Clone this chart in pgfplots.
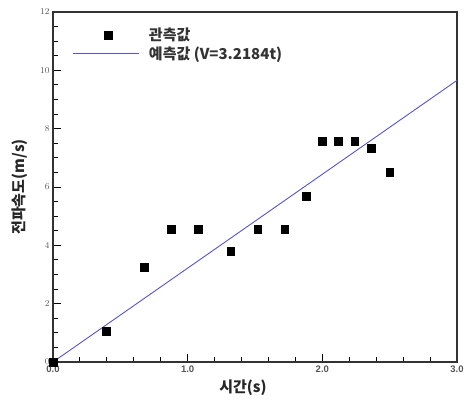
\documentclass[border=0pt]{standalone}
\usepackage{pgfplots}
\pgfplotsset{compat=1.18}
\usepackage{fontspec}
\setmainfont{Liberation Sans}
\newfontfamily\kr{Noto Sans CJK KR}
\usetikzlibrary{calc}
\definecolor{lineblue}{RGB}{85,85,205}
\definecolor{tickgray}{RGB}{85,85,85}
\pgfplotsset{
  marklegend/.style={legend image code/.code={\draw[#1] plot coordinates {(36pt,0pt)};}},
  linelegend/.style={legend image code/.code={\draw[#1] (0pt,0pt) -- (66pt,0pt);}},
}
\begin{document}
\begin{tikzpicture}
\begin{axis}[
  scale only axis,
  width=404pt, height=350pt,
  xmin=0, xmax=3, ymin=0, ymax=12,
  xtick={0,1,2,3}, xticklabels={0.0,1.0,2.0,3.0},
  ytick={0,2,4,6,8,10,12},
  minor x tick num=4, minor y tick num=3,
  major tick length=8pt, minor tick length=4.5pt,
  xtick style={draw=black, line width=0.9pt},
  ytick style={draw=black, line width=0.9pt},
  axis line style={line width=1.3pt, black!80},
  xtick pos=bottom, ytick pos=left,
  xticklabel style={font=\fontsize{9.5}{10}\selectfont\bfseries, text=tickgray},
  yticklabel style={font=\fontsize{9.5}{10}\selectfont\bfseries, text=tickgray},
  xlabel={시간(s)},
  ylabel={전파속도(m/s)},
  label style={font=\fontsize{15}{16}\selectfont\kr\bfseries, text=black!85},
  xlabel style={at={(axis description cs:0.47,0)}, anchor=center, yshift=-26pt},
  ylabel style={at={(axis description cs:-0.082,0.5)}, anchor=center},
  legend style={draw=none, fill=none, at={(axis cs:0.14,11.45)}, anchor=north west,
    font=\fontsize{15}{16}\selectfont\kr\bfseries, text=black!80,
    row sep=4pt, column sep=10pt, inner sep=0pt, nodes={inner sep=0pt}},
  legend cell align=left,
]
\addplot[only marks, mark=square*, mark size=3.9pt, black, marklegend]
coordinates {
(0,0) (0.394,1.06) (0.677,3.26) (0.877,4.56) (1.08,4.56) (1.32,3.80)
(1.52,4.56) (1.72,4.56) (1.88,5.69) (2.00,7.58) (2.12,7.58) (2.24,7.58)
(2.36,7.34) (2.50,6.51)
};
\addlegendentry{관측값}
\addplot[lineblue, line width=0.9pt, linelegend]
coordinates {(0,0) (3,9.6552)};
\addlegendentry{예측값 (V=3.2184t)}
\end{axis}
\path ($(current axis.south west)+(-53pt,-38pt)$) rectangle ($(current axis.north east)+(13pt,12pt)$);
\end{tikzpicture}
\end{document}
